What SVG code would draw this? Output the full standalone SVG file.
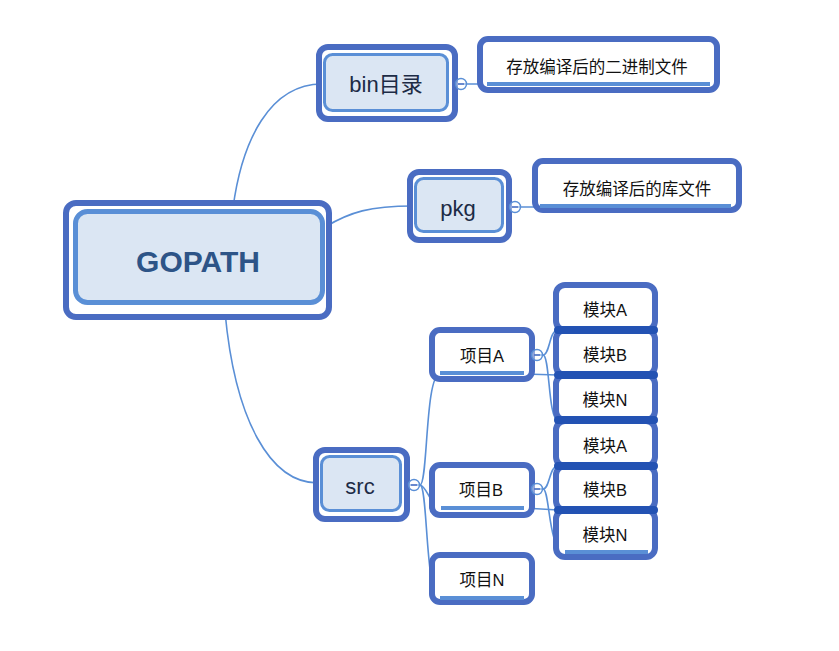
<svg xmlns="http://www.w3.org/2000/svg" width="839" height="651" viewBox="0 0 839 651">
<style>
.outer{fill:#fff;stroke:#4a6cc2;stroke-width:6}
.inner{fill:#dbe6f3;stroke:#5a8fd6;stroke-width:3}
.ul{stroke:#5a8fd6;stroke-width:4;fill:none}
.bar{stroke:#2352b3;stroke-width:8;stroke-linecap:round;fill:none}
.conn{fill:none;stroke:#5a8fd6;stroke-width:1.6}
.tg circle{fill:#fff;fill-opacity:0.4;stroke:#5a8fd6;stroke-width:1.4}
.tg line{stroke:#4a6cc2;stroke-width:1.4}
.t{font-family:"Liberation Sans","Noto Sans CJK SC",sans-serif;text-anchor:middle;dominant-baseline:central;fill:#111}
.n{fill:#1c2b45;font-size:22px}
.s{font-size:16.5px}
.m{font-size:16.5px}
</style>
<rect width="839" height="651" fill="#fff"/>
<g id="connectors">
<path class="conn" d="M233,208 C242,140 270,84 322,84"/>
<path class="conn" d="M325,227 C350,212 370,206 413,206"/>
<path class="conn" d="M225,312 C235,420 270,483 318,483"/>
<path class="conn" d="M449,84 L487,84"/>
<path class="conn" d="M504,207 L540,207"/>
<path class="conn" d="M402,485 L420,485"/>
<path class="conn" d="M420,485 C428,485 425,374 440,374"/>
<path class="conn" d="M420,485 C428,487 430,507 441,507"/>
<path class="conn" d="M420,485 C428,485 425,598 440,598"/>
<path class="conn" d="M532,355 L543,355"/>
<path class="conn" d="M543,355 C550,355 549,330 558,330"/>
<path class="conn" d="M543,355 C550,355 548,420 558,420"/>
<path class="conn" d="M524,374 L558,375"/>
<path class="conn" d="M532,489 L543,489"/>
<path class="conn" d="M543,489 C550,489 549,466 558,466"/>
<path class="conn" d="M543,489 C550,489 548,552 565,552"/>
<path class="conn" d="M524,508 L558,510"/>
</g>
<g id="gopath">
<rect class="outer" x="66" y="203" width="263" height="114" rx="10"/>
<rect class="inner" x="75.5" y="211.5" width="247" height="91" rx="12" style="stroke-width:5"/>
<text class="t" x="198" y="261" style="font-size:30px;font-weight:bold;fill:#2d5487">GOPATH</text>
</g>
<g id="bin">
<rect class="outer" x="319" y="47" width="136" height="72" rx="9"/>
<rect class="inner" x="324.5" y="54.5" width="123" height="56" rx="8"/>
<text class="t n" x="386" y="84">bin目录</text>
</g>
<g id="bin-desc">
<rect class="outer" x="480" y="39" width="237" height="51" rx="8"/>
<line class="ul" x1="487" y1="84" x2="710" y2="84"/>
<text class="t s" x="597" y="67">存放编译后的二进制文件</text>
</g>
<g id="pkg">
<rect class="outer" x="410" y="172" width="99" height="68" rx="9"/>
<rect class="inner" x="415.5" y="178.5" width="87" height="53" rx="8"/>
<text class="t n" x="458" y="208">pkg</text>
</g>
<g id="pkg-desc">
<rect class="outer" x="535" y="161" width="204" height="49" rx="8"/>
<line class="ul" x1="540" y1="206" x2="731" y2="206"/>
<text class="t s" x="637" y="189">存放编译后的库文件</text>
</g>
<g id="src">
<rect class="outer" x="316" y="450" width="91" height="69" rx="9"/>
<rect class="inner" x="321.5" y="456.5" width="79" height="54" rx="8"/>
<text class="t n" x="360" y="486">src</text>
</g>
<g id="projA">
<rect class="outer" x="432" y="330" width="100" height="49" rx="8"/>
<line class="ul" x1="440" y1="373" x2="524" y2="373"/>
<text class="t m" x="482" y="356">项目A</text>
</g>
<g id="projB">
<rect class="outer" x="432" y="465" width="100" height="50" rx="8"/>
<line class="ul" x1="441" y1="508" x2="524" y2="508"/>
<text class="t m" x="481" y="490">项目B</text>
</g>
<g id="projN">
<rect class="outer" x="432" y="555" width="100" height="47" rx="8"/>
<line class="ul" x1="440" y1="598" x2="524" y2="598"/>
<text class="t m" x="482" y="580">项目N</text>
</g>
<g id="modA1">
<rect class="outer" x="556" y="285" width="99" height="45" rx="9"/>
<text class="t m" x="605" y="310">模块A</text>
</g>
<g id="modB1">
<rect class="outer" x="556" y="330" width="99" height="45" rx="9"/>
<text class="t m" x="605" y="355">模块B</text>
</g>
<g id="modN1">
<rect class="outer" x="556" y="375" width="99" height="45" rx="9"/>
<text class="t m" x="605" y="400">模块N</text>
</g>
<g id="modA2">
<rect class="outer" x="556" y="421" width="99" height="45" rx="9"/>
<text class="t m" x="605" y="446">模块A</text>
</g>
<g id="modB2">
<rect class="outer" x="556" y="466" width="99" height="44" rx="9"/>
<text class="t m" x="605" y="490">模块B</text>
</g>
<g id="modN2">
<rect class="outer" x="556" y="510" width="99" height="47" rx="9"/>
<line class="ul" x1="565" y1="552" x2="648" y2="552"/>
<text class="t m" x="605" y="535">模块N</text>
</g>
<g id="bars">
<line class="bar" x1="558" y1="330" x2="654" y2="330"/>
<line class="bar" x1="558" y1="375" x2="654" y2="375"/>
<line class="bar" x1="558" y1="420" x2="654" y2="420"/>
<line class="bar" x1="558" y1="466" x2="654" y2="466"/>
<line class="bar" x1="558" y1="510" x2="654" y2="510"/>
</g>
<g id="toggles" class="tg">
<circle cx="461" cy="84" r="5.5"/><line x1="458" y1="84" x2="464" y2="84"/>
<circle cx="515" cy="207" r="5.5"/><line x1="512" y1="207" x2="518" y2="207"/>
<circle cx="414" cy="485" r="5.5"/><line x1="411" y1="485" x2="417" y2="485"/>
<circle cx="537" cy="355" r="5.5"/><line x1="534" y1="355" x2="540" y2="355"/>
<circle cx="537" cy="489" r="5.5"/><line x1="534" y1="489" x2="540" y2="489"/>
</g>
</svg>
